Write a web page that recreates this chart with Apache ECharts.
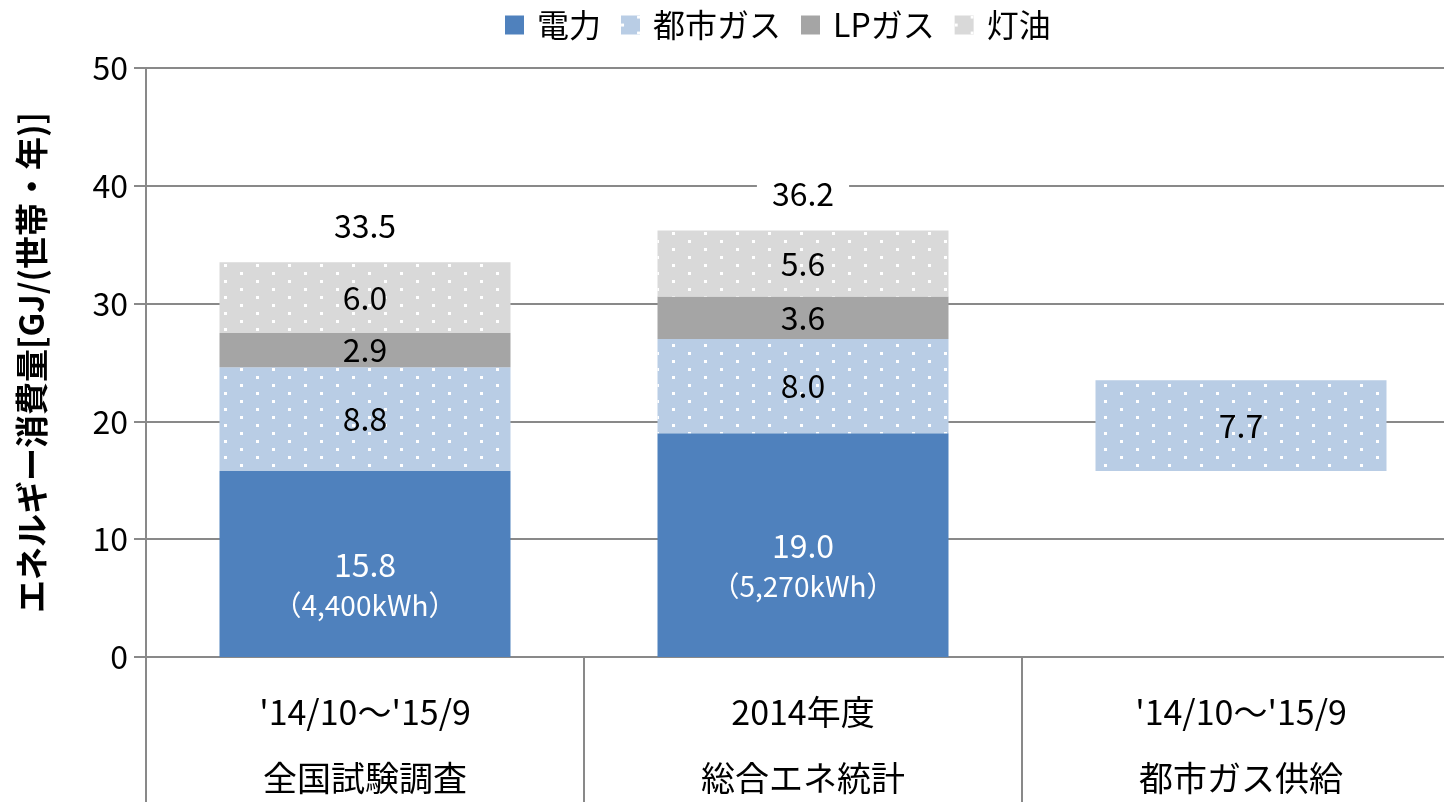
<!DOCTYPE html>
<html>
<head>
<meta charset="utf-8">
<script src="https://cdn.jsdelivr.net/npm/echarts@6/dist/echarts.min.js"></script>
<style>
html, body { margin: 0; padding: 0; background: #fff; }
#main { width: 1444px; height: 802px; }
</style>
</head>
<body>
<div id="main"></div>
<script>
// data
var periods = ["'14/10～'15/9", "2014年度", "'14/10～'15/9"];
var sources = ['全国試験調査', '総合エネ統計', '都市ガス供給'];
var denryoku = [15.8, 19.0, '-'];
var kwhText = ['4,400', '5,270', ''];
var baseGap = ['-', '-', 15.8];   // invisible offset under the floating bar
var toshiGas = [8.8, 8.0, 7.7];
var lpGas = [2.9, 3.6, '-'];
var touyu = [6.0, 5.6, '-'];
var totals = [33.5, 36.2, '-'];
var yMin = 0, yMax = 50, yStep = 10;

var FONT = 'Noto Sans CJK JP';
var GRAY = '#898989';

var dots = {
    symbol: 'rect',
    symbolSize: 1,
    color: '#ffffff',
    dashArrayX: [[3, 29], [0, 16, 3, 13]],
    dashArrayY: [3, 5]
};

var categories = periods.map(function (p, i) { return p + '\n' + sources[i]; });

var chart = echarts.init(document.getElementById('main'));

var segLabel = {
    show: true,
    position: 'inside',
    color: '#000',
    fontFamily: FONT,
    fontSize: 32,
    formatter: function (p) { return p.value.toFixed(1); }
};

var option = {
    animation: false,
    textStyle: { fontFamily: FONT },
    legend: {
        data: ['電力', '都市ガス', 'LPガス', '灯油'],
        icon: 'rect',
        left: 500,
        top: 4,
        itemWidth: 19,
        itemHeight: 19,
        itemGap: 20,
        textStyle: { fontSize: 32, color: '#000', fontFamily: FONT, padding: [0, 0, 0, 8] }
    },
    grid: {
        left: 146,
        right: -16,
        top: 68,
        bottom: 145,
        containLabel: false,
        outerBoundsMode: 'none'
    },
    xAxis: {
        type: 'category',
        data: categories,
        axisLine: { lineStyle: { color: GRAY, width: 2 } },
        axisTick: { show: true, interval: 0, length: 150, lineStyle: { color: GRAY, width: 2 } },
        axisLabel: {
            interval: 0,
            margin: 22,
            fontSize: 34,
            lineHeight: 66,
            color: '#000',
            fontFamily: FONT
        }
    },
    yAxis: {
        type: 'value',
        min: yMin,
        max: yMax,
        interval: yStep,
        name: 'エネルギー消費量[GJ/(世帯・年)]',
        nameLocation: 'middle',
        nameGap: 98,
        nameTextStyle: { fontSize: 33, fontWeight: 'bold', color: '#000', fontFamily: FONT },
        axisLine: { show: true, lineStyle: { color: GRAY, width: 2 } },
        axisTick: { show: true, length: 12, lineStyle: { color: GRAY, width: 2 } },
        axisLabel: { fontSize: 32, color: '#000', margin: 18, fontFamily: FONT },
        splitLine: { show: true, lineStyle: { color: GRAY, width: 2 } }
    },
    series: [
        {
            name: '電力',
            type: 'bar',
            stack: 'e',
            barWidth: 291,
            data: denryoku,
            itemStyle: { color: '#4F81BD' },
            label: {
                show: true,
                position: 'inside',
                offset: [0, 21],
                formatter: function (p) {
                    return '{a|' + p.value.toFixed(1) + '}\n{b|（' + kwhText[p.dataIndex] + 'kWh）}';
                },
                rich: {
                    a: { fontSize: 32, color: '#fff', fontFamily: FONT, lineHeight: 41 },
                    b: { fontSize: 28, color: '#fff', fontFamily: FONT, lineHeight: 41 }
                }
            }
        },
        {
            name: 'base',
            type: 'bar',
            stack: 'e',
            data: baseGap,
            silent: true,
            itemStyle: { color: 'rgba(0,0,0,0)' },
            label: { show: false }
        },
        {
            name: '都市ガス',
            type: 'bar',
            stack: 'e',
            data: toshiGas,
            itemStyle: { color: '#B9CDE5', decal: dots },
            label: segLabel
        },
        {
            name: 'LPガス',
            type: 'bar',
            stack: 'e',
            data: lpGas,
            itemStyle: { color: '#A5A5A5' },
            label: segLabel
        },
        {
            name: '灯油',
            type: 'bar',
            stack: 'e',
            data: touyu,
            itemStyle: { color: '#D9D9D9', decal: dots },
            label: segLabel
        },
        {
            name: '合計',
            type: 'scatter',
            data: totals,
            symbolSize: 1,
            silent: true,
            itemStyle: { color: 'rgba(0,0,0,0)', opacity: 1 },
            label: {
                show: true,
                position: 'top',
                distance: 20,
                fontSize: 32,
                color: '#000',
                fontFamily: FONT,
                backgroundColor: '#fff',
                padding: [0, 15],
                formatter: function (p) { return p.value.toFixed(1); }
            }
        }
    ]
};

chart.setOption(option);
</script>
</body>
</html>
